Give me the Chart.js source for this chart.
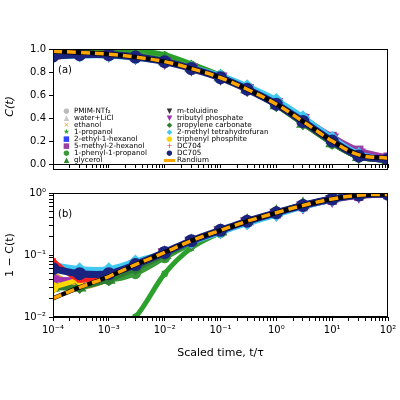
<!DOCTYPE html>
<html><head><meta charset="utf-8">
<script src="https://cdn.jsdelivr.net/npm/chart.js@4"></script>
<style>
body{margin:0;width:400px;height:400px;position:relative;background:#fff;font-family:"DejaVu Sans";overflow:hidden}
canvas{position:absolute;left:0}
#lg div{position:absolute;font-size:7.2px;line-height:7px;white-space:nowrap}
#lg span{display:inline-block;width:11px;text-align:center;margin-right:2px}
.pl{position:absolute;font-size:10px}
</style></head><body>
<canvas id="a" width="400" height="175" style="top:0"></canvas>
<canvas id="b" width="400" height="185" style="top:175px"></canvas>
<div class="pl" style="left:58px;top:64px">(a)</div>
<div class="pl" style="left:58px;top:208px">(b)</div>
<div id="lg"></div>
<script>
const T=[1e-4,3e-4,1e-3,3e-3,1e-2,3e-2,0.1,0.3,1,3,10,30,100];
const randium=[0.98,0.97,0.955,0.93,0.89,0.83,0.75,0.65,0.52,0.37,0.2,0.08,0.05];
const names=["PMIM-NTf₂","water+LiCl","ethanol","1-propanol","2-ethyl-1-hexanol","5-methyl-2-hexanol","1-phenyl-1-propanol","glycerol","m-toluidine","tributyl phosphate","propylene carbonate","2-methyl tetrahydrofuran","triphenyl phosphite","DC704","DC705"];
const colors=["#bbbbbb","#c8c8c8","#e8a840","#2ca02c","#3344ff","#9b3fa0","#3a9a3a","#2e8b2e","#333333","#a030b0","#2e7d32","#40c8f0","#ffd700","#ff2020","#1a237e"];
const styles=["circle","triangle","crossRot","star","rect","rect","circle","triangle","triangle","triangle","rectRot","rectRot","circle","cross","circle"];
const rot=[0,0,0,0,0,0,0,0,180,180,0,0,0,0,0];
const glyph=["●","▲","×","★","■","■","●","▲","▼","▼","◆","◆","●","+","●"];
const values=[
[0.97,0.96,0.95,0.93,0.89,0.83,0.75,0.65,0.52,0.37,0.2,0.07,0.04],
[0.96,0.96,0.95,0.93,0.89,0.83,0.75,0.65,0.53,0.38,0.21,0.08,0.04],
[0.95,0.97,0.96,0.94,0.9,0.84,0.76,0.66,0.53,0.38,0.21,0.08,0.04],
[0.999,0.998,0.995,0.99,0.95,0.87,0.77,0.66,0.52,0.36,0.19,0.07,0.04],
[0.97,0.96,0.95,0.93,0.89,0.83,0.75,0.65,0.52,0.37,0.2,0.07,0.03],
[0.96,0.96,0.95,0.93,0.89,0.84,0.76,0.66,0.54,0.4,0.24,0.12,0.06],
[0.93,0.95,0.96,0.95,0.91,0.85,0.77,0.66,0.52,0.36,0.18,0.06,0.03],
[0.97,0.97,0.96,0.94,0.9,0.84,0.76,0.65,0.51,0.35,0.18,0.06,0.03],
[0.97,0.96,0.95,0.93,0.89,0.83,0.75,0.65,0.52,0.37,0.2,0.07,0.03],
[0.96,0.96,0.95,0.93,0.89,0.84,0.76,0.66,0.54,0.4,0.23,0.1,0.05],
[0.97,0.97,0.96,0.94,0.9,0.84,0.76,0.65,0.51,0.35,0.18,0.06,0.03],
[0.93,0.94,0.94,0.92,0.89,0.84,0.77,0.68,0.56,0.41,0.23,0.09,0.04],
[0.97,0.96,0.95,0.93,0.89,0.83,0.75,0.65,0.52,0.37,0.2,0.07,0.04],
[0.92,0.96,0.95,0.93,0.89,0.83,0.75,0.65,0.52,0.37,0.2,0.07,0.04],
[0.94,0.95,0.95,0.93,0.89,0.83,0.75,0.65,0.52,0.37,0.2,0.07,0.04]];
const yTicksA=[0,0.2,0.4,0.6,0.8,1.0];
const sup={"-":"⁻","0":"⁰","1":"¹","2":"²","3":"³","4":"⁴"};
const pw=v=>"10"+String(Math.round(Math.log10(v))).split("").map(c=>sup[c]).join("");
const isPow=v=>Math.abs(Math.log10(v)-Math.round(Math.log10(v)))<1e-6;

function sets(f){
  const ds=names.map((n,i)=>({data:T.map((t,j)=>({x:t,y:f(values[i][j])})),showLine:true,tension:0.3,borderColor:colors[i],backgroundColor:colors[i],borderWidth:i==14?7:5,pointStyle:styles[i],rotation:rot[i],pointRadius:3,order:20-i}));
  ds.push({data:T.map((t,j)=>({x:t,y:f(randium[j])})),showLine:true,borderColor:"#000",borderWidth:4.5,pointRadius:0,tension:0.4,order:1});
  ds.push({data:T.map((t,j)=>({x:t,y:f(randium[j])})),showLine:true,borderColor:"#ffa500",borderWidth:3.5,borderDash:[9,5],pointRadius:0,tension:0.4,order:0});
  return ds;
}
const font={family:"DejaVu Sans",size:10};
function xScale(labels,h){return {type:"logarithmic",min:1e-4,max:100,afterBuildTicks:a=>{const t=[];for(let e=-4;e<2;e++)for(let k=1;k<10;k++)t.push({value:k*Math.pow(10,e)});t.push({value:100});a.ticks=t;},
  ticks:{display:labels,color:"#000",font,maxRotation:0,autoSkip:false,callback:v=>isPow(v)?pw(v):""},
  grid:{drawOnChartArea:false,color:"#000",tickLength:4,tickColor:"#000"},border:{color:"#000"},
  title:{display:labels,text:"Scaled time, t/τ",color:"#000",font:{family:"DejaVu Sans",size:11},padding:{top:2,bottom:0}},afterFit:s=>{s.height=h;}};}
const common={animation:false,responsive:false,plugins:{legend:{display:false},tooltip:{enabled:false}}};
new Chart(document.getElementById("a"),{type:"scatter",data:{datasets:sets(v=>v)},options:{...common,layout:{padding:{top:49,right:12,left:0,bottom:0}},
 scales:{x:xScale(false,5),y:{min:0,max:1,afterBuildTicks:a=>{a.ticks=yTicksA.map(v=>({value:v}));},ticks:{color:"#000",font,callback:v=>v.toFixed(1)},grid:{drawOnChartArea:false,tickColor:"#000",tickLength:4},border:{color:"#000"},
 title:{display:true,text:"C(t)",color:"#000",font:{family:"DejaVu Sans",size:11,style:"italic"}},afterFit:s=>{s.width=53;}}}}});
new Chart(document.getElementById("b"),{type:"scatter",data:{datasets:sets(v=>Math.max(1-v,0.0001))},options:{...common,layout:{padding:{top:18,right:12,left:0,bottom:0}},
 scales:{x:xScale(true,43),y:{type:"logarithmic",min:0.01,max:1,afterBuildTicks:a=>{const t=[];for(let e=-2;e<0;e++)for(let k=1;k<10;k++)t.push({value:k*Math.pow(10,e)});t.push({value:1});a.ticks=t;},ticks:{color:"#000",font,autoSkip:false,callback:v=>isPow(v)?pw(v):""},grid:{drawOnChartArea:false,tickColor:"#000",tickLength:4},border:{color:"#000"},
 title:{display:true,text:"1 − C(t)",color:"#000",font:{family:"DejaVu Sans",size:11}},afterFit:s=>{s.width=53;}}}}});
const lg=document.getElementById("lg");
names.forEach((n,i)=>{const c=i<8?0:1,r=i<8?i:i-8;const d=document.createElement("div");d.style.left=(c?164:61)+"px";d.style.top=(107+r*7)+"px";d.innerHTML=`<span style="color:${colors[i]}">${glyph[i]}</span>${n}`;lg.appendChild(d);});
const d=document.createElement("div");d.style.left="164px";d.style.top=(107+7*7)+"px";d.innerHTML=`<span><b style="display:inline-block;width:11px;height:3px;background:#ffa500;vertical-align:middle"></b></span>Randium`;lg.appendChild(d);
</script>
<div style="position:absolute;left:53px;top:49px;width:335px;height:121px;border:1px solid #000;box-sizing:border-box;pointer-events:none"></div>
<div style="position:absolute;left:53px;top:193px;width:335px;height:124px;border:1px solid #000;box-sizing:border-box;pointer-events:none"></div>
</body></html>
